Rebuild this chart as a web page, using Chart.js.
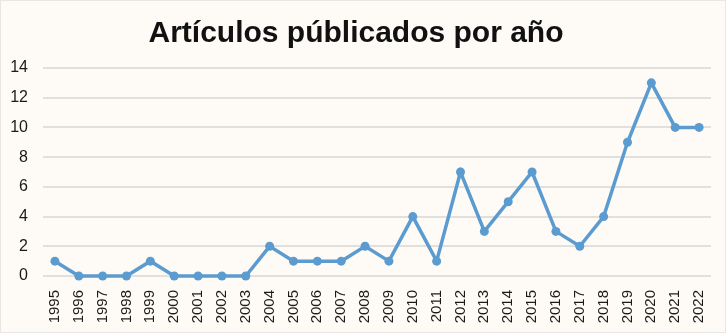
<!DOCTYPE html>
<html>
<head>
<meta charset="utf-8">
<script src="https://cdn.jsdelivr.net/npm/chart.js@4"></script>
<style>
  html, body { margin: 0; padding: 0; background: #e9e7e3; }
  #wrap { position: absolute; left: 1px; top: 1px; width: 724px; height: 331px; background: #fefbf7; }
</style>
</head>
<body>
<div id="wrap"><canvas id="chart" width="724" height="331"></canvas></div>
<script>
// datos del gráfico
const anios = ['1995','1996','1997','1998','1999','2000','2001','2002','2003','2004','2005','2006','2007','2008',
  '2009','2010','2011','2012','2013','2014','2015','2016','2017','2018','2019','2020','2021','2022'];
const articulos = [1,0,0,0,1,0,0,0,0,2,1,1,1,2,1,4,1,7,3,5,7,3,2,4,9,13,10,10];
const ticksY = [0,2,4,6,8,10,12,14];

const ctx = document.getElementById('chart').getContext('2d');

new Chart(ctx, {
  type: 'line',
  data: {
    labels: anios,
    datasets: [{
      label: 'Artículos',
      data: articulos,
      borderColor: '#5b9bd0',
      backgroundColor: '#5b9bd0',
      borderWidth: 3.5,
      pointRadius: 4.5,
      pointBorderWidth: 0,
      tension: 0,
      clip: false
    }]
  },
  options: {
    responsive: false,
    animation: false,
    layout: { padding: { left: 0, right: 14, top: 0, bottom: 0 } },
    plugins: {
      legend: { display: false },
      tooltip: { enabled: false },
      title: {
        display: true,
        text: 'Artículos públicados por año',
        color: '#111111',
        font: { family: 'Liberation Sans', size: 30, weight: 'bold' },
        padding: { top: 15, bottom: 16 }
      }
    },
    scales: {
      x: {
        offset: true,
        grid: { display: false },
        border: { display: false },
        afterFit: axis => { axis.height = 56; },
        ticks: {
          color: '#1a1a1a',
          font: { family: 'Liberation Sans', size: 15 },
          maxRotation: 90,
          minRotation: 90,
          autoSkip: false,
          padding: 6
        }
      },
      y: {
        min: 0,
        max: 14,
        afterBuildTicks: axis => { axis.ticks = ticksY.map(v => ({ value: v })); },
        afterFit: axis => { axis.width = 42; },
        grid: { color: '#e2e0dc', lineWidth: 2, drawTicks: false },
        border: { display: false },
        ticks: {
          color: '#1a1a1a',
          font: { family: 'Liberation Sans', size: 16 },
          padding: 15
        }
      }
    }
  }
});
</script>
</body>
</html>
